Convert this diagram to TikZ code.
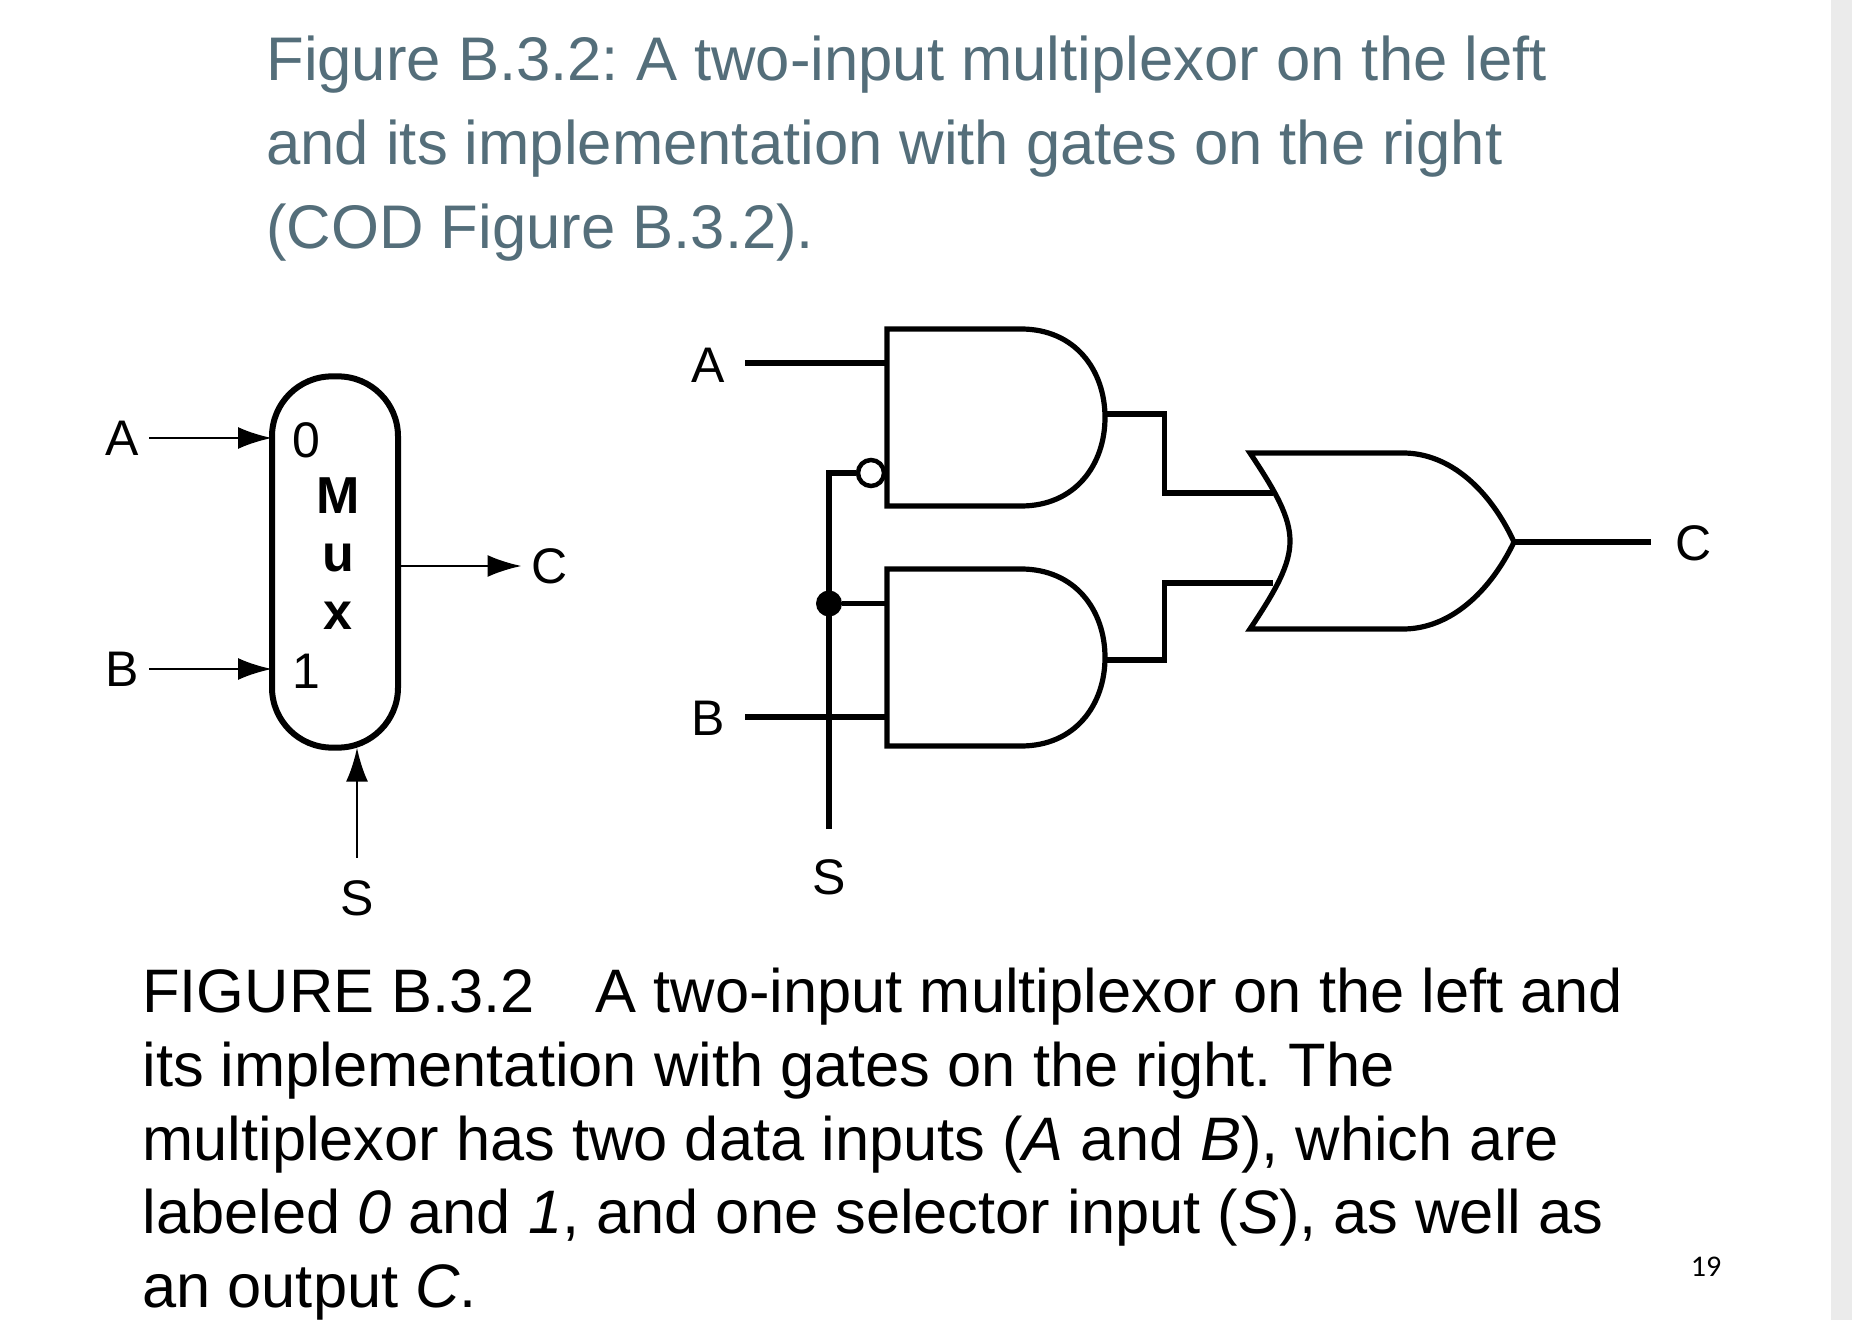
\documentclass[tikz,border=0pt]{standalone}
\usepackage{fontspec}
\setmainfont{Liberation Sans}
\newfontfamily\pagefont{Carlito}
\usetikzlibrary{arrows.meta}
\frenchspacing
\def\andgate{(887,329) -- (1021,329) .. controls (1075,329) and (1105,370) .. (1105,417.5) .. controls (1105,465) and (1075,506) .. (1021,506) -- (887,506) -- cycle}
\def\orgate{(1250,453) -- (1403,453) .. controls (1450,453) and (1490,490) .. (1514,542) .. controls (1490,592) and (1450,629) .. (1403,629) -- (1250,629) .. controls (1276,590) and (1290,565) .. (1290,541) .. controls (1290,517) and (1276,492) .. (1250,453) -- cycle}
\definecolor{head text}{HTML}{546E7A}
\definecolor{side strip}{HTML}{EBEBEB}
\tikzset{x=0.5pt, y=-0.5pt,
    sig/.style={font=\fontsize{25}{30}\selectfont, inner sep=5pt},
    gatesig/.style={font=\fontsize{25}{30}\selectfont, inner sep=10pt},
    muxletter/.style={font=\fontsize{26}{30}\selectfont\bfseries, inner sep=0pt},
    wire/.style={draw=black, line width=2.6pt},
    gate/.style={draw=black, line width=2.6pt, miter limit=20},
    arrowline/.style={draw=black, line width=1.4pt, -{Latex[length=17pt,width=11pt]}}}

\begin{document}
\begin{tikzpicture}
    \useasboundingbox (0,0) rectangle (1852,1320);
    \fill[white] (0,0) rectangle (1852,1320);
    \fill[side strip] (1831,0) rectangle (1852,1320);
    \node[anchor=north west, inner sep=0pt, align=left, text=head text,
        font=\fontsize{30.8}{42}\selectfont] (heading) at (266,35)
        {Figure B.3.2: A two-input multiplexor on the left\\
        and its implementation with gates on the right\\
        (COD Figure B.3.2).};
    % multiplexor on the left
    \node[draw, line width=3pt, rounded corners=30pt, outer sep=0pt,
        minimum width=63pt, minimum height=185.6pt] (mux) at (335,562) {};
    \node[sig] (muxA) at (122,438) {A};
    \node[sig] (muxB) at (122,669) {B};
    \node[sig] (muxC) at (550,566) {C};
    \node[sig, inner sep=11pt] (muxS) at (357,898) {S};
    \node[sig, inner sep=0pt] (zero) at (306,440) {0};
    \node[sig, inner sep=0pt] (one) at (306,671) {1};
    \node[muxletter] (letterM) at (338,496) {M};
    \node[muxletter] (letterU) at (338,558) {u};
    \node[muxletter] (letterX) at (338,616) {x};
    \draw[arrowline] (muxA.east) -- (muxA.east -| mux.west);
    \draw[arrowline] (muxB.east) -- (muxB.east -| mux.west);
    \draw[arrowline] (muxC.west -| mux.east) -- (muxC.west);
    \draw[arrowline] (muxS.north) -- (muxS.north |- mux.south);
    % gates on the right
    \draw[gate] \andgate;
    \draw[gate, yshift=-120pt] \andgate;
    \draw[gate] \orgate;
    \node[gatesig] (gateA) at (708,365) {A};
    \node[gatesig] (gateB) at (708,718) {B};
    \node[sig] (gateC) at (1694,543) {C};
    \node[sig] (gateS) at (829,877) {S};
    \coordinate (pinA) at (887,363);
    \coordinate (pinB) at (887,717);
    \coordinate (pinS) at (887,603.5);
    \coordinate (outA) at (1105,414);
    \coordinate (outB) at (1105,660);
    \coordinate (orA) at (1273,493);
    \coordinate (orB) at (1273,583);
    \coordinate (orC) at (1514,542);
    \coordinate (endS) at (829,829);
    \coordinate (endC) at (1651,542);
    \node[draw, circle, line width=2.25pt, fill=white, minimum size=13pt, inner sep=0pt] (bubble) at (871,473) {};
    \node[circle, fill=black, minimum size=13pt, inner sep=0pt] (joint) at (829,603.5) {};
    \draw[wire] (pinA -| gateA.east) -- (pinA);
    \draw[wire] (pinB -| gateB.east) -- (pinB);
    \draw[wire] (endS) -- (829,473) -- (bubble.west);
    \draw[wire] (joint) -- (pinS);
    \draw[wire] (outA) -- (1164.5,414) -- (1164.5,493) -- (orA);
    \draw[wire] (outB) -- (1164.5,660) -- (1164.5,583) -- (orB);
    \draw[wire] (orC) -- (endC);
    % caption
    \node[anchor=north west, inner sep=0pt, align=left,
        font=\fontsize{30.7}{36.8}\selectfont] (caption) at (142,968)
        {FIGURE B.3.2\hspace{22pt} A two-input multiplexor on the left and\\
        its implementation with gates on the right. The\\
        multiplexor has two data inputs (\textit{A} and \textit{B}), which are\\
        labeled \textit{0} and \textit{1}, and one selector input (\textit{S}), as well as\\
        an output \textit{C}.};
    \node[font=\pagefont\fontsize{15}{17}\selectfont, inner sep=0pt] (pagenum) at (1706,1267) {19};
\end{tikzpicture}
\end{document}
